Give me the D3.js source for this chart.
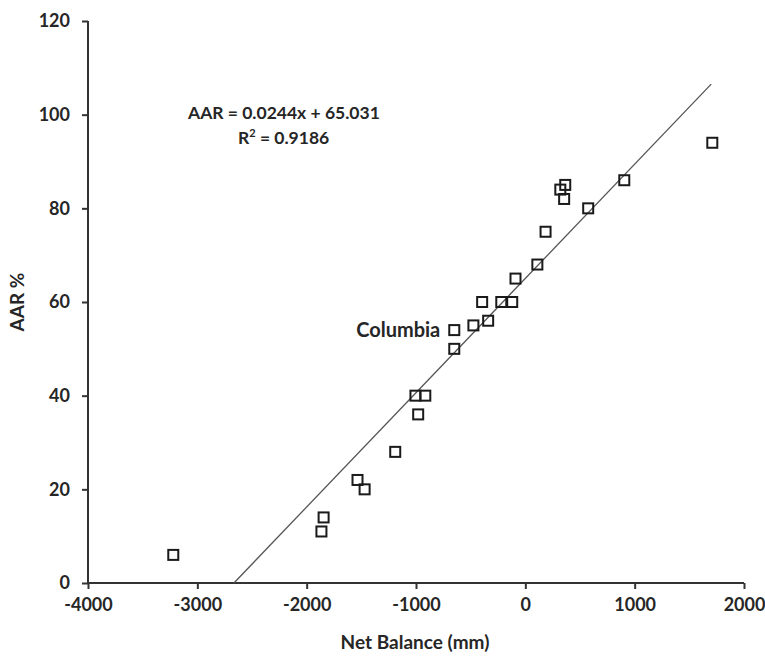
<!DOCTYPE html>
<html>
<head>
<meta charset="utf-8">
<script src="https://cdn.jsdelivr.net/npm/d3@7"></script>
<style>
  html, body { margin: 0; padding: 0; background: #fff; }
  svg { display: block; }
  text { font-family: Lato, "Open Sans", sans-serif; fill: #262626; }
</style>
</head>
<body>
<svg id="chart" width="765" height="660"></svg>
<script>
// ---- data ----
const netBalance = [-3220, -1865, -1845, -1535, -1470, -1190, -1005, -915, -980, -650, -650, -475, -340, -395, -220, -120, -90, 110, 185, 320, 365, 355, 575, 905, 1710];
const aar        = [6, 11, 14, 22, 20, 28, 40, 40, 36, 50, 54, 55, 56, 60, 60, 60, 65, 68, 75, 84, 85, 82, 80, 86, 94];
const labelIndex = 10; // Columbia
const labelText = "Columbia";
const xTicks = [-4000, -3000, -2000, -1000, 0, 1000, 2000];
const yTicks = [0, 20, 40, 60, 80, 100, 120];
const slope = 0.0244, intercept = 65.031;
const fitRange = [-65.031 / 0.0244, 1700];
const eqLine1 = "AAR = 0.0244x + 65.031";
const eqLine2Base = "R", eqLine2Sup = "2", eqLine2Rest = " = 0.9186";
const xTitle = "Net Balance (mm)";
const yTitle = "AAR %";

// ---- layout ----
const svg = d3.select("#chart");
const x = d3.scaleLinear().domain([-4000, 2000]).range([88, 744]);
const y = d3.scaleLinear().domain([0, 120]).range([583, 21]);

const fmt = d => String(d);
const xAxis = d3.axisBottom(x).tickValues(xTicks).tickSize(6).tickPadding(9).tickFormat(fmt);
const yAxis = d3.axisLeft(y).tickValues(yTicks).tickSize(6).tickPadding(12).tickFormat(fmt);

const gx = svg.append("g").attr("transform", `translate(0,${y(0)})`).call(xAxis);
const gy = svg.append("g").attr("transform", `translate(${x(-4000)},0)`).call(yAxis);

[gx, gy].forEach(g => {
  g.select(".domain").attr("stroke", "#333").attr("stroke-width", 2);
  g.selectAll(".tick line").attr("stroke", "#333").attr("stroke-width", 2);
  g.selectAll(".tick text").attr("font-size", 18).attr("font-weight", 700).attr("fill", "#262626")
    .style("font-family", "Lato, 'Open Sans', sans-serif");
});
gx.select(".domain").attr("d", `M${x(-4000)},0H${x(2000)}`);
gy.select(".domain").attr("d", `M0,${y(0)}V${y(120)}`);

// regression line
svg.append("line")
  .attr("x1", x(fitRange[0])).attr("y1", y(slope * fitRange[0] + intercept))
  .attr("x2", x(fitRange[1])).attr("y2", y(slope * fitRange[1] + intercept))
  .attr("stroke", "#555").attr("stroke-width", 1.3);

// points
const pts = netBalance.map((v, i) => ({ nb: v, a: aar[i] }));
const s = 10;
svg.append("g").selectAll("rect").data(pts).join("rect")
  .attr("x", d => x(d.nb) - s / 2)
  .attr("y", d => y(d.a) - s / 2)
  .attr("width", s).attr("height", s)
  .attr("fill", "none").attr("stroke", "#1a1a1a").attr("stroke-width", 2);

// Columbia label
svg.append("text")
  .attr("x", x(netBalance[labelIndex]) - 14)
  .attr("y", y(aar[labelIndex]) + 7)
  .attr("text-anchor", "end")
  .attr("font-size", 20).attr("font-weight", 700)
  .text(labelText);

// equation
svg.append("text").attr("x", 188).attr("y", 119).attr("text-anchor", "start")
  .attr("font-size", 17.5).attr("font-weight", 700).text(eqLine1);
const t2 = svg.append("text").attr("x", 238).attr("y", 144).attr("text-anchor", "start")
  .attr("font-size", 17.5).attr("font-weight", 700);
t2.append("tspan").text(eqLine2Base);
t2.append("tspan").attr("dy", -7).attr("font-size", 11).text(eqLine2Sup);
t2.append("tspan").attr("dy", 7).text(eqLine2Rest);

// axis titles
svg.append("text").attr("x", 415).attr("y", 649).attr("text-anchor", "middle")
  .attr("font-size", 19).attr("font-weight", 700).text(xTitle);
svg.append("text").attr("transform", "translate(24,302) rotate(-90)").attr("text-anchor", "middle")
  .attr("font-size", 19).attr("font-weight", 700).text(yTitle);
</script>
</body>
</html>
